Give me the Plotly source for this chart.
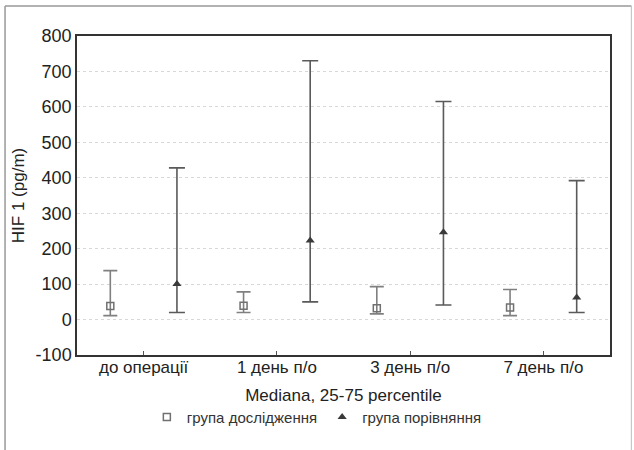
import plotly.graph_objects as go

categories = ["до операції", "1 день п/о", "3 день п/о", "7 день п/о"]

g1_name = "група дослідження"
g1_median = [38, 39, 32, 34]
g1_q25 = [11, 20, 16, 11]
g1_q75 = [138, 78, 93, 85]

g2_name = "група порівняння"
g2_median = [100, 223, 246, 62]
g2_q25 = [20, 50, 41, 20]
g2_q75 = [428, 730, 615, 392]

y_ticks = [-100, 0, 100, 200, 300, 400, 500, 600, 700, 800]
y_ticktext = ["-100", "0", "100", "200", "300", "400", "500", "600", "700", "800"]

idx = list(range(len(categories)))
off = 0.25

fig = go.Figure()
fig.add_trace(go.Scatter(
    x=[i - off for i in idx], y=g1_median, mode="markers", name=g1_name,
    marker=dict(symbol="square-open", size=7, color="#707070", line=dict(width=1.5, color="#707070")),
    error_y=dict(type="data", symmetric=False,
                 array=[h - m for h, m in zip(g1_q75, g1_median)],
                 arrayminus=[m - l for m, l in zip(g1_median, g1_q25)],
                 color="#808080", thickness=1.6, width=7),
))
fig.add_trace(go.Scatter(
    x=[i + off for i in idx], y=g2_median, mode="markers", name=g2_name,
    marker=dict(symbol="triangle-up", size=8, color="#3a3a3a"),
    error_y=dict(type="data", symmetric=False,
                 array=[h - m for h, m in zip(g2_q75, g2_median)],
                 arrayminus=[m - l for m, l in zip(g2_median, g2_q25)],
                 color="#5a5a5a", thickness=1.6, width=8),
))

font_family = "Liberation Sans, Arial, sans-serif"
fig.update_layout(
    width=634, height=450,
    margin=dict(l=77, r=24, t=36, b=95),
    paper_bgcolor="white", plot_bgcolor="white",
    font=dict(family=font_family, color="#222"),
    showlegend=True,
    legend=dict(orientation="h", x=0.45, xanchor="center", y=-0.195, yanchor="middle",
                font=dict(size=15, color="#333"), bgcolor="rgba(0,0,0,0)",
                itemwidth=30, tracegroupgap=0),
    xaxis=dict(range=[-0.5, 3.5], tickvals=idx, ticktext=categories, automargin=False,
               tickfont=dict(size=17, color="#222"), ticks="inside", ticklen=4,
               tickcolor="#555", showgrid=False, zeroline=False, ticklabelstandoff=-4,
               showline=True, linecolor="#333", linewidth=1.5, mirror=True,
               title=dict(text="Mediana, 25-75 percentile", font=dict(size=17, color="#222"), standoff=13)),
    yaxis=dict(range=[-100, 800], tickvals=y_ticks, ticktext=y_ticktext, automargin=False,
               tickfont=dict(size=18, color="#222"),
               ticks="", showgrid=True, gridcolor="#d8d8d8", griddash="dot", gridwidth=1,
               zeroline=False, showline=True, linecolor="#333", linewidth=1.5, mirror=True,
               title=dict(text="HIF 1 (pg/m)", font=dict(size=17, color="#222"), standoff=7)),
    shapes=[
        dict(type="line", xref="paper", yref="paper", x0=-0.135, x1=-0.135, y0=1.094, y1=-0.3,
             line=dict(color="#999", width=1.5)),
        dict(type="line", xref="paper", yref="paper", x0=-0.135, x1=1.04, y0=1.094, y1=1.094,
             line=dict(color="#999", width=1.5)),
        dict(type="line", xref="paper", yref="paper", x0=1.04, x1=1.04, y0=1.094, y1=-0.3,
             line=dict(color="#bbb", width=1)),
    ],
)

fig.write_html("out.html", config={"displayModeBar": False},
               post_script="document.body.style.margin='0';")
